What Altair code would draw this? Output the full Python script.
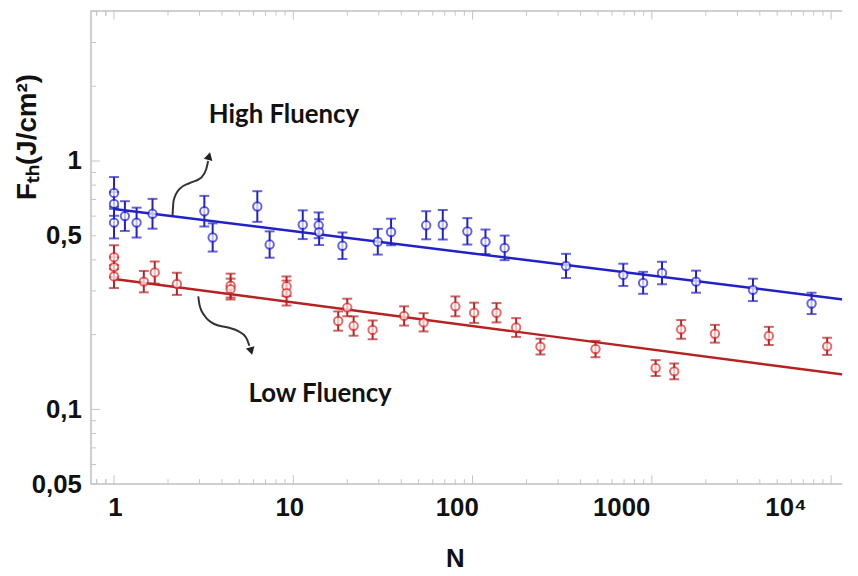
import altair as alt
import pandas as pd

# ---------------- data ----------------
blue_N = [1, 1, 1, 1.15, 1.336, 1.639, 3.19, 3.55, 6.30, 7.38, 11.29, 13.85, 13.93, 18.8,
          29.6, 35.1, 55.1, 68.2, 93.5, 118, 151, 332, 693, 894, 1139, 1764, 3664, 7780]
blue_F = [0.744, 0.672, 0.565, 0.600, 0.565, 0.613, 0.628, 0.492, 0.656, 0.461, 0.554, 0.551, 0.517, 0.456,
          0.473, 0.518, 0.551, 0.554, 0.521, 0.473, 0.447, 0.378, 0.348, 0.323, 0.354, 0.327, 0.303, 0.267]
blue_lo = [0.642, 0.602, 0.488, 0.523, 0.492, 0.534, 0.545, 0.432, 0.569, 0.408, 0.485, 0.489, 0.459, 0.403,
           0.420, 0.458, 0.484, 0.483, 0.461, 0.422, 0.399, 0.338, 0.314, 0.292, 0.319, 0.295, 0.273, 0.242]
blue_hi = [0.862, 0.750, 0.654, 0.689, 0.649, 0.704, 0.724, 0.561, 0.756, 0.521, 0.633, 0.621, 0.583, 0.516,
           0.533, 0.586, 0.628, 0.635, 0.589, 0.530, 0.501, 0.423, 0.386, 0.358, 0.393, 0.362, 0.336, 0.295]

red_N = [1, 1, 1, 1.466, 1.687, 2.242, 4.47, 4.47, 9.17, 9.17, 17.8, 20.0, 21.7, 27.7,
         41.5, 53.3, 80.2, 102, 136, 175, 239, 485, 1050, 1333, 1457, 2248, 4494, 9502]
red_F = [0.410, 0.374, 0.343, 0.327, 0.356, 0.320, 0.315, 0.305, 0.313, 0.294, 0.227, 0.257, 0.217, 0.209,
         0.238, 0.224, 0.260, 0.245, 0.245, 0.2136, 0.179, 0.175, 0.1467, 0.1423, 0.210, 0.2017, 0.1977, 0.1794]
red_lo = [0.367, 0.341, 0.308, 0.296, 0.321, 0.289, 0.282, 0.277, 0.286, 0.262, 0.2075, 0.237, 0.198, 0.1916,
          0.2175, 0.206, 0.237, 0.223, 0.224, 0.1958, 0.1664, 0.1622, 0.1363, 0.1322, 0.1925, 0.1857, 0.1817, 0.1657]
red_hi = [0.458, 0.410, 0.381, 0.361, 0.394, 0.355, 0.352, 0.336, 0.343, 0.330, 0.248, 0.279, 0.237, 0.228,
          0.260, 0.244, 0.285, 0.269, 0.268, 0.233, 0.1926, 0.1888, 0.1579, 0.1531, 0.229, 0.219, 0.215, 0.1943]

# fitted lines (end points)
fit_N = [1, 12740]
fit_blue_F = [0.641, 0.275]
fit_red_F = [0.335, 0.137]

# annotation arrows and labels
hi_arrow_N = [2.12, 2.15, 2.32, 2.66, 3.06, 3.27, 3.35]
hi_arrow_F = [0.604, 0.693, 0.773, 0.817, 0.856, 0.929, 1.0]
lo_arrow_N = [2.95, 3.01, 3.21, 3.65, 4.32, 4.90, 5.45, 5.69]
lo_arrow_F = [0.2853, 0.2603, 0.2375, 0.2202, 0.2136, 0.2070, 0.1949, 0.1804]
head_N = [3.39, 5.82]
head_F = [1.047, 0.1718]
head_shape = ["triangle-up", "triangle-down"]
head_angle = [15, 345]
label_text = ["High Fluency", "Low Fluency"]
label_N = [3.38, 5.62]
label_F = [1.535, 0.1148]

x_label_values = [1, 10, 100, 1000, 10000]
y_label_values = [0.05, 0.1, 0.5, 1]
x_major = [1, 10, 100, 1000, 10000]
x_minor = [m * 10 ** e for e in range(-1, 4) for m in range(2, 10)] + [0.8, 0.9]
x_minor = [v for v in x_minor if 0.75 <= v <= 11500 and v not in x_major]
y_major = [0.1, 1]
y_minor = [m * 10 ** e for e in (-2, -1, 0) for m in range(2, 10)]
y_minor = [v for v in y_minor if 0.05 <= v <= 4.0]

# ---------------- chart ----------------
W, H = 758, 478
BLUE, RED = "#2222dc", "#e42828"
BLUE_LINE, RED_LINE = "#2121c4", "#b52222"
TICK = "#c4c4c4"
FRAME = "#cfcfcf"

xscale = alt.Scale(type="log", domain=[0.746, 11510], nice=False)
yscale = alt.Scale(type="log", domain=[0.05, 4.03], nice=False)

X_ax = alt.Axis(values=x_label_values,
                labelExpr="datum.value >= 10000 ? '10⁴' : format(datum.value, 'd')",
                labelOffset=alt.ExprRef(expr="datum.value >= 10000 ? -46 : datum.value >= 1000 ? -31 : datum.value >= 100 ? -16 : datum.value >= 10 ? -4 : 1"),
                ticks=False, tickSize=0, domain=False, grid=False,
                labelFont="Liberation Sans", labelFontWeight="bold", labelFontSize=26,
                labelColor="#111111", labelPadding=11, labelFlush=False, labelOverlap=False,
                title="N", titleFont="Liberation Sans", titleFontWeight="bold", titleFontSize=26,
                titleColor="#111111", titlePadding=25, titleX=367)
Y_ax = alt.Axis(values=y_label_values,
                labelExpr="datum.value == 0.05 ? '0,05' : datum.value == 0.1 ? '0,1' : datum.value == 0.5 ? '0,5' : '1'",
                ticks=False, tickSize=0, domain=False, grid=False,
                labelFont="Liberation Sans", labelFontWeight="bold", labelFontSize=26,
                labelColor="#111111", labelPadding=10, labelFlush=False, labelOverlap=False,
                title="Fₜₕ(J/cm²)", titleFont="Liberation Sans", titleFontWeight="bold",
                titleFontSize=28, titleColor="#111111", titleAngle=270,
                titleX=-64, titleY=127, titleAlign="center", titleBaseline="middle")


def xenc(field="N"):
    return alt.X(f"{field}:Q", scale=xscale, axis=X_ax)


def yenc(field="F"):
    return alt.Y(f"{field}:Q", scale=yscale, axis=Y_ax)


pts = pd.concat([
    pd.DataFrame({"N": blue_N, "F": blue_F, "lo": blue_lo, "hi": blue_hi, "s": "High"}),
    pd.DataFrame({"N": red_N, "F": red_F, "lo": red_lo, "hi": red_hi, "s": "Low"}),
])
color = alt.Color("s:N", scale=alt.Scale(domain=["High", "Low"], range=[BLUE, RED]), legend=None)

fit = pd.concat([
    pd.DataFrame({"N": fit_N, "F": fit_blue_F, "s": "High"}),
    pd.DataFrame({"N": fit_N, "F": fit_red_F, "s": "Low"}),
])
fit_color = alt.Color("s:N", scale=alt.Scale(domain=["High", "Low"], range=[BLUE_LINE, RED_LINE]), legend=None)

arrows = pd.concat([
    pd.DataFrame({"N": hi_arrow_N, "F": hi_arrow_F, "a": "hi"}),
    pd.DataFrame({"N": lo_arrow_N, "F": lo_arrow_F, "a": "lo"}),
])
heads = pd.DataFrame({"N": head_N, "F": head_F, "shape": head_shape, "angle": head_angle})
labels = pd.DataFrame({"N": label_N, "F": label_F, "t": label_text})

xt_major = pd.DataFrame({"N": x_major})
xt_minor = pd.DataFrame({"N": x_minor})
yt_major = pd.DataFrame({"F": y_major})
yt_minor = pd.DataFrame({"F": y_minor})

layers = []
# frame (left, top, bottom) — the right side runs off the picture in the reference
layers.append(alt.Chart(xt_major).mark_rule(color=FRAME, strokeWidth=1.5).encode(
    x=alt.value(0), y=alt.value(0), y2=alt.value(H)))
layers.append(alt.Chart(xt_major).mark_rule(color=FRAME, strokeWidth=1.5).encode(
    x=alt.value(0), x2=alt.value(W), y=alt.value(0)))
layers.append(alt.Chart(xt_major).mark_rule(color=FRAME, strokeWidth=1.5).encode(
    x=alt.value(0), x2=alt.value(W), y=alt.value(H)))
# inward ticks (bottom, top, left)
for df, ln in ((xt_major, 9), (xt_minor, 5)):
    layers.append(alt.Chart(df).mark_rule(color=TICK, strokeWidth=1).encode(
        x=xenc(), y=alt.value(H), y2=alt.value(H - ln)))
    layers.append(alt.Chart(df).mark_rule(color=TICK, strokeWidth=1).encode(
        x=xenc(), y=alt.value(0), y2=alt.value(ln)))
for df, ln in ((yt_major, 9), (yt_minor, 5)):
    layers.append(alt.Chart(df).mark_rule(color=TICK, strokeWidth=1).encode(
        y=yenc(), x=alt.value(0), x2=alt.value(ln)))

# fitted lines
layers.append(alt.Chart(fit).mark_line(strokeWidth=2.5, clip=True).encode(
    x=xenc(), y=yenc(), color=fit_color, detail="s:N"))

# error bars
base = alt.Chart(pts)
layers.append(base.mark_rule(strokeWidth=2).encode(x=xenc(), y=yenc("lo"), y2="hi:Q", color=color))
layers.append(base.mark_tick(orient="horizontal", size=10, thickness=2).encode(x=xenc(), y=yenc("lo"), color=color))
layers.append(base.mark_tick(orient="horizontal", size=10, thickness=2).encode(x=xenc(), y=yenc("hi"), color=color))
# points
layers.append(base.mark_point(shape="circle", size=72, strokeWidth=2, filled=False).encode(
    x=xenc(), y=yenc(), stroke=color, fill=alt.value("white"), fillOpacity=alt.value(1)))

# annotations
layers.append(alt.Chart(arrows).mark_line(color="#333333", strokeWidth=2, interpolate="monotone").encode(
    x=xenc(), y=yenc(), detail="a:N"))
layers.append(alt.Chart(heads).mark_point(filled=True, size=80, color="#222222", opacity=1).encode(
    x=xenc(), y=yenc(), shape=alt.Shape("shape:N", scale=None), angle=alt.Angle("angle:Q", scale=None)))
layers.append(alt.Chart(labels).mark_text(align="left", baseline="middle", font="Lato", fontWeight="bold",
                                            fontSize=26, color="#111111").encode(
    x=xenc(), y=yenc(), text="t:N"))

chart = alt.layer(*layers).properties(
    width=W, height=H,
    autosize=alt.AutoSizeParams(type="none"),
    padding={"left": 84, "top": 0, "right": 8, "bottom": 90},
    background="white",
).configure_view(stroke=None)

chart.save("out.html", embed_options={"renderer": "svg", "actions": False})
